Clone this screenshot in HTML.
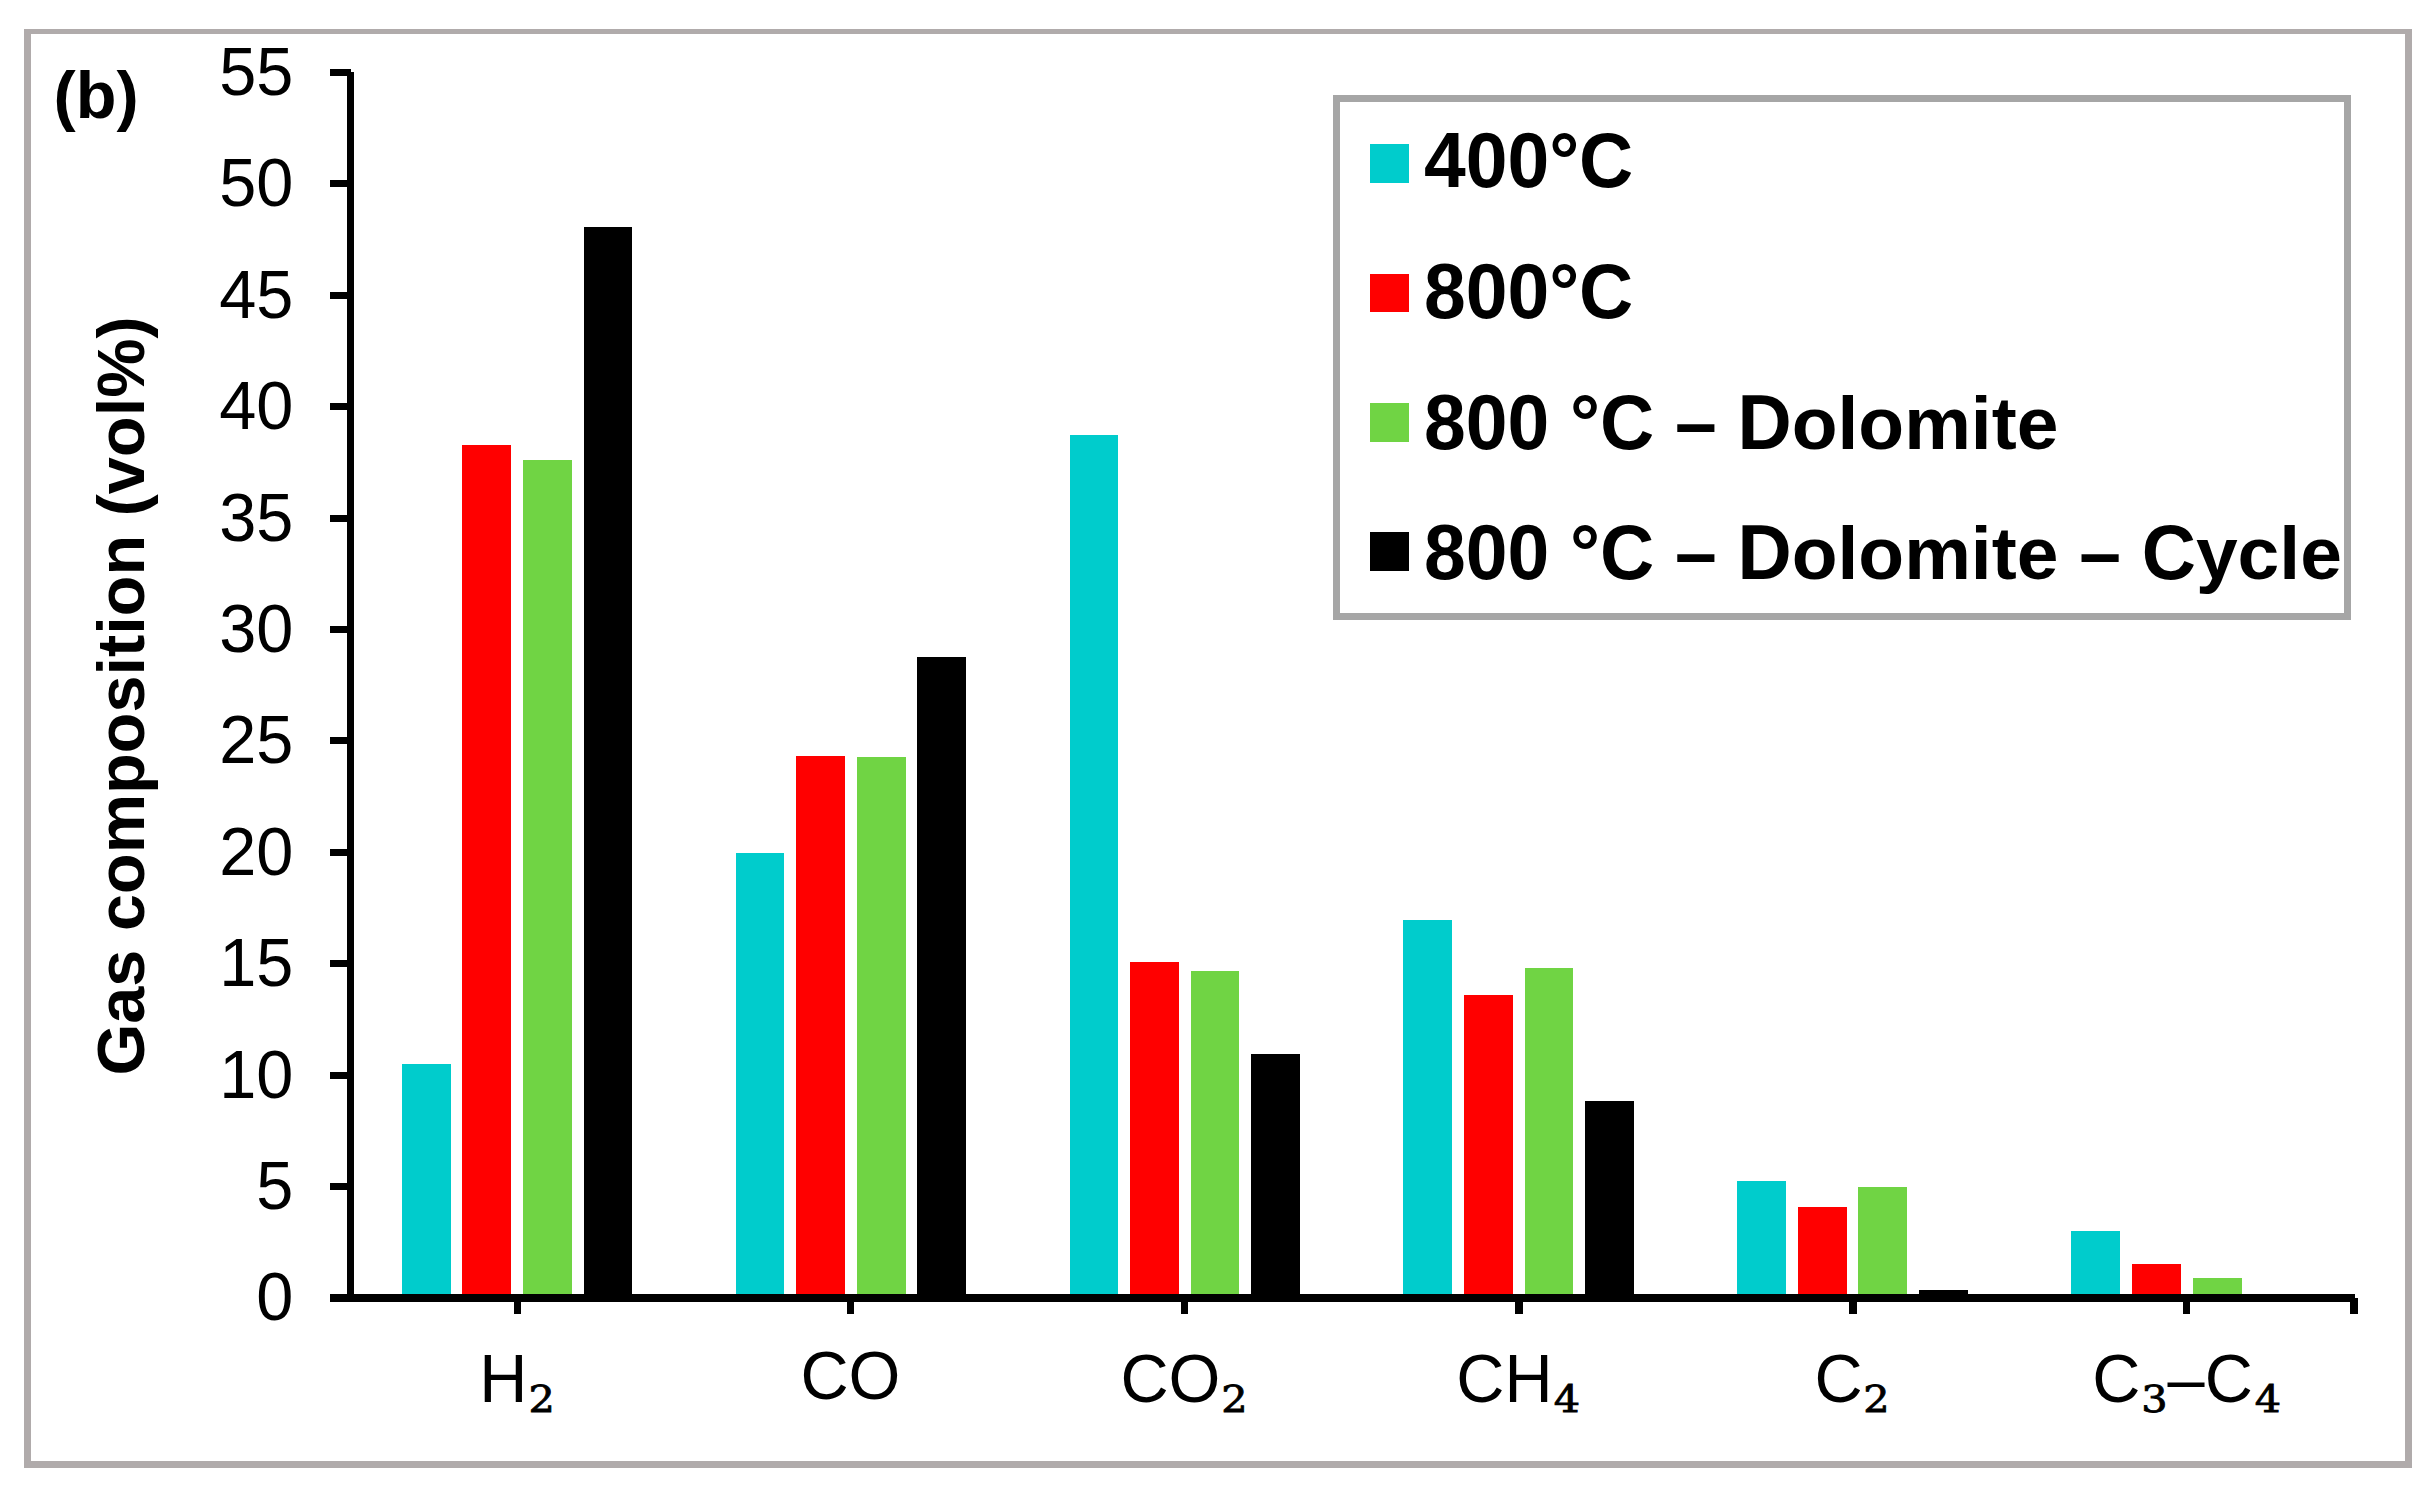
<!DOCTYPE html>
<html lang="en"><head><meta charset="utf-8"><title>Gas composition (vol%)</title>
<style>html,body{margin:0;padding:0;background:#fff;}body{width:2432px;height:1493px;overflow:hidden;}svg{display:block;}text{fill:#000;font-kerning:none;white-space:pre;}.r{font-family:"Liberation Sans",Arial,sans-serif;font-size:66.67px;}.b{font-family:"Liberation Sans",Arial,sans-serif;font-size:66.67px;font-weight:bold;}.l{font-family:"Liberation Sans",Arial,sans-serif;font-size:75px;font-weight:bold;}.s{font-family:"DejaVu Serif","Liberation Serif",serif;font-size:35.58px;stroke:#000;stroke-width:0.8px;}</style></head><body>
<svg width="2432" height="1493" viewBox="0 0 2432 1493">
<rect x="0" y="0" width="2432" height="1493" fill="#ffffff"/>
<g id="frame">
<rect x="24" y="29" width="2388" height="5" fill="#b0abab" shape-rendering="crispEdges"/>
<rect x="24" y="1461" width="2388" height="7" fill="#b0abab" shape-rendering="crispEdges"/>
<rect x="24" y="29" width="7" height="1439" fill="#b0abab" shape-rendering="crispEdges"/>
<rect x="2405" y="29" width="7" height="1439" fill="#b0abab" shape-rendering="crispEdges"/>
</g>
<g id="bars">
<rect x="402" y="1064" width="49" height="232" fill="#00cccc" shape-rendering="crispEdges"/>
<rect x="462" y="445" width="49" height="851" fill="#ff0000" shape-rendering="crispEdges"/>
<rect x="523" y="460" width="49" height="836" fill="#70d444" shape-rendering="crispEdges"/>
<rect x="584" y="227" width="48" height="1069" fill="#000000" shape-rendering="crispEdges"/>
<rect x="736" y="853" width="48" height="443" fill="#00cccc" shape-rendering="crispEdges"/>
<rect x="796" y="756" width="49" height="540" fill="#ff0000" shape-rendering="crispEdges"/>
<rect x="857" y="757" width="49" height="539" fill="#70d444" shape-rendering="crispEdges"/>
<rect x="917" y="657" width="49" height="639" fill="#000000" shape-rendering="crispEdges"/>
<rect x="1070" y="435" width="48" height="861" fill="#00cccc" shape-rendering="crispEdges"/>
<rect x="1130" y="962" width="49" height="334" fill="#ff0000" shape-rendering="crispEdges"/>
<rect x="1191" y="971" width="48" height="325" fill="#70d444" shape-rendering="crispEdges"/>
<rect x="1251" y="1054" width="49" height="242" fill="#000000" shape-rendering="crispEdges"/>
<rect x="1403" y="920" width="49" height="376" fill="#00cccc" shape-rendering="crispEdges"/>
<rect x="1464" y="995" width="49" height="301" fill="#ff0000" shape-rendering="crispEdges"/>
<rect x="1525" y="968" width="48" height="328" fill="#70d444" shape-rendering="crispEdges"/>
<rect x="1585" y="1101" width="49" height="195" fill="#000000" shape-rendering="crispEdges"/>
<rect x="1737" y="1181" width="49" height="115" fill="#00cccc" shape-rendering="crispEdges"/>
<rect x="1798" y="1207" width="49" height="89" fill="#ff0000" shape-rendering="crispEdges"/>
<rect x="1858" y="1187" width="49" height="109" fill="#70d444" shape-rendering="crispEdges"/>
<rect x="1919" y="1290" width="49" height="6" fill="#000000" shape-rendering="crispEdges"/>
<rect x="2071" y="1231" width="49" height="65" fill="#00cccc" shape-rendering="crispEdges"/>
<rect x="2132" y="1264" width="49" height="32" fill="#ff0000" shape-rendering="crispEdges"/>
<rect x="2193" y="1278" width="49" height="18" fill="#70d444" shape-rendering="crispEdges"/>
</g>
<g id="axes">
<rect x="347" y="72" width="7" height="1230" fill="#000000" shape-rendering="crispEdges"/>
<rect x="330" y="1294" width="2025" height="8" fill="#000000" shape-rendering="crispEdges"/>
<rect x="330" y="69" width="21" height="7" fill="#000000" shape-rendering="crispEdges"/>
<rect x="330" y="180" width="21" height="7" fill="#000000" shape-rendering="crispEdges"/>
<rect x="330" y="292" width="21" height="7" fill="#000000" shape-rendering="crispEdges"/>
<rect x="330" y="403" width="21" height="7" fill="#000000" shape-rendering="crispEdges"/>
<rect x="330" y="515" width="21" height="7" fill="#000000" shape-rendering="crispEdges"/>
<rect x="330" y="626" width="21" height="7" fill="#000000" shape-rendering="crispEdges"/>
<rect x="330" y="737" width="21" height="7" fill="#000000" shape-rendering="crispEdges"/>
<rect x="330" y="849" width="21" height="7" fill="#000000" shape-rendering="crispEdges"/>
<rect x="330" y="960" width="21" height="7" fill="#000000" shape-rendering="crispEdges"/>
<rect x="330" y="1072" width="21" height="7" fill="#000000" shape-rendering="crispEdges"/>
<rect x="330" y="1183" width="21" height="7" fill="#000000" shape-rendering="crispEdges"/>
<rect x="514" y="1300" width="7" height="14" fill="#000000" shape-rendering="crispEdges"/>
<rect x="847" y="1300" width="7" height="14" fill="#000000" shape-rendering="crispEdges"/>
<rect x="1181" y="1300" width="7" height="14" fill="#000000" shape-rendering="crispEdges"/>
<rect x="1515" y="1300" width="8" height="14" fill="#000000" shape-rendering="crispEdges"/>
<rect x="1849" y="1300" width="8" height="14" fill="#000000" shape-rendering="crispEdges"/>
<rect x="2183" y="1300" width="7" height="14" fill="#000000" shape-rendering="crispEdges"/>
<rect x="2350" y="1298" width="8" height="16" fill="#000000" shape-rendering="crispEdges"/>
</g>
<g id="ylabels">
<text class="r" transform="translate(293.40,94.90) scale(1,1.04)" text-anchor="end">55</text>
<text class="r" transform="translate(293.40,206.30) scale(1,1.04)" text-anchor="end">50</text>
<text class="r" transform="translate(293.40,317.70) scale(1,1.04)" text-anchor="end">45</text>
<text class="r" transform="translate(293.40,429.10) scale(1,1.04)" text-anchor="end">40</text>
<text class="r" transform="translate(293.40,540.50) scale(1,1.04)" text-anchor="end">35</text>
<text class="r" transform="translate(293.40,651.90) scale(1,1.04)" text-anchor="end">30</text>
<text class="r" transform="translate(293.40,763.30) scale(1,1.04)" text-anchor="end">25</text>
<text class="r" transform="translate(293.40,874.70) scale(1,1.04)" text-anchor="end">20</text>
<text class="r" transform="translate(293.40,986.10) scale(1,1.04)" text-anchor="end">15</text>
<text class="r" transform="translate(293.40,1097.50) scale(1,1.04)" text-anchor="end">10</text>
<text class="r" transform="translate(293.40,1208.90) scale(1,1.04)" text-anchor="end">5</text>
<text class="r" transform="translate(293.40,1320.30) scale(1,1.04)" text-anchor="end">0</text>
</g>
<g id="xlabels">
<text class="r" transform="translate(479.23,1401.70) scale(1,1.04)">H<tspan class="s" x="49.26" dy="9.90" textLength="26.37" lengthAdjust="spacingAndGlyphs">2</tspan></text>
<text class="r" transform="translate(800.41,1398.70) scale(1,1.04)">CO</text>
<text class="r" transform="translate(1120.41,1401.70) scale(1,1.04)">CO<tspan class="s" x="100.97" dy="9.90" textLength="26.37" lengthAdjust="spacingAndGlyphs">2</tspan></text>
<text class="r" transform="translate(1456.31,1401.70) scale(1,1.04)">CH<tspan class="s" x="97.41" dy="9.90" textLength="26.37" lengthAdjust="spacingAndGlyphs">4</tspan></text>
<text class="r" transform="translate(1814.41,1401.70) scale(1,1.04)">C<tspan class="s" x="48.77" dy="9.90" textLength="26.37" lengthAdjust="spacingAndGlyphs">2</tspan></text>
<text class="r" transform="translate(2092.21,1401.70) scale(1,1.04)">C<tspan class="s" x="48.93" dy="9.90" textLength="26.37" lengthAdjust="spacingAndGlyphs">3</tspan><tspan x="75.39" dy="-9.90">–C</tspan><tspan class="s" x="162.51" dy="9.90" textLength="26.37" lengthAdjust="spacingAndGlyphs">4</tspan></text>
</g>
<text id="ytitle" class="b" text-anchor="middle" transform="translate(144,696) rotate(-90)">Gas composition (vol%)</text>
<text class="b" x="53.50" y="118.00">(b)</text>
<g id="legend">
<rect x="1336.5" y="98.5" width="1011" height="518" fill="#ffffff" stroke="#a6a6a6" stroke-width="7" shape-rendering="crispEdges"/>
<rect x="1370" y="144" width="39" height="39" fill="#00cccc" shape-rendering="crispEdges"/>
<text class="l" x="1424.00" y="187.00"><tspan font-size="78.00" textLength="209.29" lengthAdjust="spacingAndGlyphs">400°C</tspan></text>
<rect x="1370" y="274" width="39" height="38" fill="#ff0000" shape-rendering="crispEdges"/>
<text class="l" x="1424.00" y="317.50"><tspan font-size="78.00" textLength="209.29" lengthAdjust="spacingAndGlyphs">800°C</tspan></text>
<rect x="1370" y="403" width="39" height="39" fill="#70d444" shape-rendering="crispEdges"/>
<text class="l" x="1424.00" y="448.60"><tspan font-size="78.00" textLength="367.68" lengthAdjust="spacingAndGlyphs">800 °C – D</tspan>olomite</text>
<rect x="1370" y="532" width="39" height="39" fill="#000000" shape-rendering="crispEdges"/>
<text class="l" x="1424.00" y="578.60"><tspan font-size="78.00" textLength="367.68" lengthAdjust="spacingAndGlyphs">800 °C – D</tspan>olomite<tspan font-size="78.00" textLength="137.55" lengthAdjust="spacingAndGlyphs"> – C</tspan>ycle</text>
</g>
</svg></body></html>
